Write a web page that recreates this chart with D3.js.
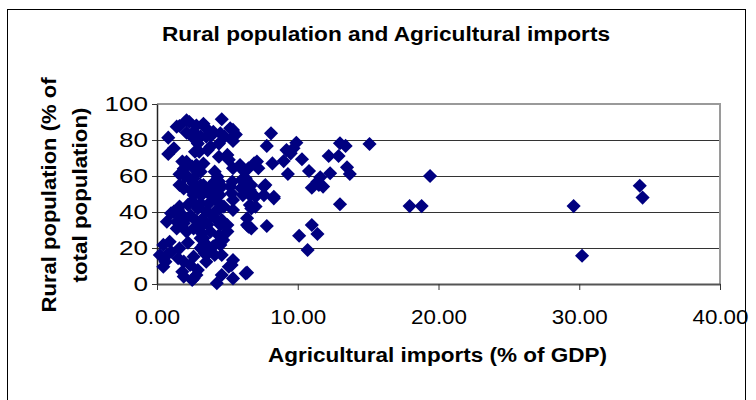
<!DOCTYPE html>
<html><head><meta charset="utf-8">
<script src="https://cdn.jsdelivr.net/npm/d3@7"></script>
<style>
html,body{margin:0;padding:0;background:#fff;}
svg{display:block;font-family:Arial,"Liberation Sans",sans-serif;}
</style></head>
<body><svg id="c" width="756" height="400"></svg>
<script>
const title = "Rural population and Agricultural imports";
const xTitle = "Agricultural imports (% of GDP)";
const yTitleLines = ["Rural population (% of", "total population)"];
const xTicks = [0, 10, 20, 30, 40];
const yTicks = [0, 20, 40, 60, 80, 100];
// Agricultural imports (% of GDP)
const importsPct = [
0.8,1.2,0.8,1.6,2.3,2.8,3.3,2.1,2.6,2.9,2.7,3.9,3.8,4.6,4.5,5.2,5.6,5.4,4.4,3.6,4.4,5.1,4.0,5.4,3.5,1.4,3.5,2.6,3.1,3.0,4.8,5.0,2.1,8.1,7.8,9.9,9.7,9.5,10.3,9.2,13.0,13.4,12.2,12.9,15.1,
1.8,1.9,2.5,2.9,1.6,2.2,2.1,2.8,3.1,2.6,5.9,6.5,6.3,7.1,8.2,6.9,7.2,6.1,9.3,9.0,10.8,13.5,13.7,12.3,11.6,11.4,11.0,11.8,11.5,19.4,4.1,4.3,4.4,3.3,3.1,2.6,1.8,4.1,5.4,5.35,6.0,7.7,7.6,3.3,2.0,
1.6,1.9,2.4,2.8,3.65,2.6,3.3,6.1,6.6,7.6,8.3,5.2,6.0,6.7,6.6,3.1,4.3,4.6,4.45,4.3,4.45,4.75,3.9,4.0,3.1,3.7,5.4,6.6,6.1,6.6,7.0,5.3,5.4,6.7,7.0,8.3,13.0,17.95,18.8,29.6,34.3,34.5,2.5,2.9,3.5,2.2,
1.5,1.0,0.7,1.4,1.9,2.1,2.6,3.1,1.2,1.6,1.8,1.4,6.4,6.5,6.7,7.8,4.6,4.5,5.0,6.4,4.8,5.0,4.7,4.4,3.3,3.6,3.2,3.9,4.2,4.4,3.8,2.8,2.4,3.0,4.1,2.0,10.1,11.0,11.4,10.7,0.45,0.9,3.5,3.2,4.0,2.2,
0.2,0.6,1.0,1.6,1.5,1.9,1.8,1.9,2.6,2.35,2.8,2.5,3.3,3.4,3.5,0.45,0.7,2.6,2.9,3.1,3.5,4.25,4.6,5.4,5.3,5.4,6.3,4.6,4.5,3.55,4.1,5.1,30.2,6.4
];
// Rural population (% of total population)
const ruralPct = [
81.3,75.4,72.2,87.8,90,88,89,84,81,78,73.5,82.8,76.3,91.5,83.7,86.5,83,79.5,78,74.4,70.7,69,84.6,85.6,81.9,87.4,86.5,84.6,82,73.5,81.9,71.7,91,83.7,76.7,78.5,75.4,72.6,69.3,74.4,78.2,76.7,71.1,71.1,77.8,
68,64,65.2,62.4,61,59.6,67.9,66.1,62.4,58.7,66.1,64.3,58.7,68,67,67,64.3,63.3,61.1,68.3,62.8,64.8,61.1,61.5,59.3,56.8,53.5,54.1,55,60,62.4,59.6,56.9,66.9,55,55.9,54.1,56.9,64.3,56.9,57.8,55,54.1,55,59.6,
55,53.1,52.2,54.1,53.1,49.4,50.4,49.4,51.3,49.4,48.5,54.1,53.1,55,49.4,49.4,53.1,54.1,49.4,45.7,42,43,48.5,53.1,44.8,44.8,46.7,43.9,54.1,52.2,48.5,50.4,41.1,42,43,47.6,44.3,43.3,43.3,43.3,54.6,48,46,42,40.5,44,
41.1,39.3,34.6,30.9,33.7,29.1,30.9,25.4,40.2,43,38.3,34.6,36.5,31.8,30.9,32.2,35.6,32.8,32.8,32.8,32.8,29.1,24.4,23.5,25.4,33,36,38,36,27,29,35,38,31,40,36,26.8,32.8,27.8,18.9,21.7,23.5,22,28,21,23,
16.1,12.4,17.9,19.8,14.3,12.4,6.8,4.1,15.2,10.6,5,2.2,21.7,17.1,12.4,9.6,16.1,3.1,7.8,19.8,16.1,0.4,5,3.1,10.6,13.3,5.9,16.1,21.7,17.9,16.1,9.6,15.7,6.3
];
const m = {left:157, right:720, top:104, bottom:284};
const svg = d3.select("#c");
svg.append("rect").attr("x",7.5).attr("y",9.5).attr("width",738).attr("height",400)
  .attr("fill","#fff").attr("stroke","#000").attr("stroke-width",1);

const x = d3.scaleLinear().domain([0,40]).range([m.left,m.right]);
const y = d3.scaleLinear().domain([0,100]).range([m.bottom,m.top]);

// gridlines
svg.append("g").selectAll("line").data(yTicks.filter(v=>v>0 && v<100)).join("line")
  .attr("x1",m.left).attr("x2",m.right).attr("y1",d=>y(d)+0.5).attr("y2",d=>y(d)+0.5)
  .attr("stroke","#333").attr("stroke-width",1);
// plot frame top/right gray
svg.append("path").attr("d",`M${m.left},${m.top} H${m.right} V${m.bottom}`)
  .attr("fill","none").attr("stroke","#9a9a9a").attr("stroke-width",2);

const FONT = "Arial,'Liberation Sans',sans-serif";
// axes
const fmtX = d3.format(".2f");
const xAxis = d3.axisBottom(x).tickValues(xTicks).tickFormat(fmtX).tickSize(6).tickSizeOuter(0).tickPadding(20);
const gx = svg.append("g").attr("transform",`translate(0,${m.bottom})`).call(xAxis);
gx.select(".domain").attr("stroke","#555").attr("stroke-width",2);
gx.selectAll(".tick line").attr("stroke","#333");
gx.selectAll("text").attr("font-size",20).attr("fill","#000").attr("font-family",FONT)
  .attr("textLength",d=>fmtX(d).length===4 ? 45 : 56).attr("lengthAdjust","spacingAndGlyphs");

const yAxis = d3.axisLeft(y).tickValues(yTicks).tickSize(5).tickSizeOuter(0).tickPadding(4);
const gy = svg.append("g").attr("transform",`translate(${m.left},0)`).call(yAxis);
gy.select(".domain").attr("stroke","#222").attr("stroke-width",1.5);
gy.selectAll(".tick line").attr("stroke","#333");
gy.selectAll("text").attr("font-size",20).attr("fill","#000").attr("font-family",FONT)
  .attr("textLength",d=>String(d).length*14.5).attr("lengthAdjust","spacingAndGlyphs");

// points
const pts = importsPct.map((v,i)=>({x:v,y:ruralPct[i]}));
const sym = d3.symbol().type(d3.symbolSquare).size(100);
svg.append("g").selectAll("path").data(pts).join("path")
  .attr("d",sym)
  .attr("transform",d=>`translate(${x(d.x)},${y(d.y)}) rotate(45)`)
  .attr("fill","#000080");

// titles
svg.append("text").attr("x",386).attr("y",41).attr("text-anchor","middle")
  .attr("font-size",20).attr("font-weight","bold").attr("textLength",448).attr("lengthAdjust","spacingAndGlyphs")
  .text(title);
svg.append("text").attr("x",437.5).attr("y",362).attr("text-anchor","middle")
  .attr("font-size",20).attr("font-weight","bold").attr("textLength",339).attr("lengthAdjust","spacingAndGlyphs")
  .text(xTitle);
const yLens = [235,175];
const yBase = [56,87];
yTitleLines.forEach((t,i)=>{
  svg.append("text").attr("transform",`translate(${yBase[i]},195) rotate(-90)`)
    .attr("text-anchor","middle").attr("font-size",20).attr("font-weight","bold")
    .attr("textLength",yLens[i]).attr("lengthAdjust","spacingAndGlyphs").text(t);
});
</script></body></html>
